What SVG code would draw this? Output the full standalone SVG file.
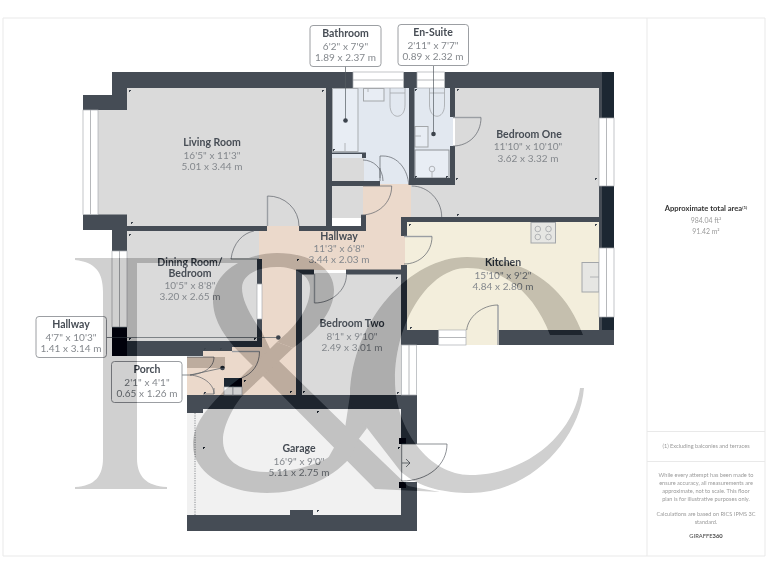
<svg xmlns="http://www.w3.org/2000/svg" xmlns:xlink="http://www.w3.org/1999/xlink" width="768" height="576" viewBox="0 0 768 576">
<style>
text{font-family:"Lato","Noto Sans",sans-serif;text-anchor:middle}
.t{font-size:10.5px;font-weight:700;fill:#474d55}
.s{font-size:10px;fill:#84888d;letter-spacing:.05px}
.floor{stroke:none}
.wall{fill:#454c55}
.dark{fill:#1c2732}
.win{fill:#fff;stroke:#a9adb1;stroke-width:.7}
.door{fill:none;stroke:#5d6268;stroke-width:.7}
.leaf{fill:none;stroke:#9a9ea3;stroke-width:1.4}
.fix{fill:none;stroke:#a3a6a9;stroke-width:.8}
.fix2{fill:#e6e6e3;stroke:#a3a6a9;stroke-width:1}
.box{fill:#fff;stroke:#83878c;stroke-width:.8}
.lead{fill:none;stroke:#555b62;stroke-width:.7}
.dot{fill:#3c434c}
.frame{fill:none;stroke:#e9e9e9;stroke-width:1}
.pt{font-size:5.6px;fill:#9a9a9a}
.pa{font-size:6.9px;fill:#9a9a9a}
.tick{fill:#3c434c}
</style>
<defs>
<g id="wm">
<path d="M75,258L258,258L258,263L137,263L137,458C137,476 146,486 167,487L167,489L75,489L75,487C95,486 103,476 103,458L103,292C103,272 95,262 75,260Z"/>
<path d="M187,357L225,357L225,368L187,368Z"/>
<path d="M242,355C222,335 213,318 213,300C213,272 245,253 277,253C310,253 334,268 334,290C334,312 316,332 293,348L277,342C297,325 310,308 310,288C310,275 295,267 277,267C257,267 242,275 242,288C242,300 250,315 262,332L273,355L357,437L408,486L440,492L375,489Z"/>
<path d="M277,342L240,378L227,388C205,410 193,425 193,445C193,475 230,493 267,493C300,493 330,480 350,458L345,442C335,460 300,472 267,472C240,472 223,460 223,440C223,425 235,403 245,393L293,348Z"/>
<path d="M327,460L345,428L350,395L367,428L358,440L350,458Z"/>
<path d="M583,335C565,285 525,257 467,257C410,257 352,320 350,395C350,410 358,418 367,428L401,472C420,488 445,493 470,493C530,493 580,440 584,388L580,388C575,430 530,475 470,475C430,475 395,430 395,380C395,320 430,268 467,268C505,268 535,295 550,335Z"/>
</g>
<path id="tk" d="M0,0h2v1h-1v1h-1z"/>
</defs>
<rect width="768" height="576" fill="#fff"/>
<g id="frame">
<path class="frame" d="M3,18H765V556H3ZM647,18V556M647,431.5H765M647,461.5H765"/>
</g>

<g id="living-room"><rect class="floor" x="98" y="110" width="30" height="105" fill="#dadada"/><rect class="floor" x="127" y="88" width="200" height="139" fill="#dadada"/>
<text class="t" x="212" y="146">Living Room</text><text class="s" x="212" y="159">16'5" x 11'3"</text><text class="s" x="212" y="170">5.01 x 3.44 m</text></g>
<g id="dining-room"><rect class="floor" x="127" y="231" width="133" height="110" fill="#dadada"/>
<text class="t" x="190" y="265.500">Dining Room/</text><text class="t" x="190" y="277">Bedroom</text><text class="s" x="190" y="289">10'5" x 8'8"</text><text class="s" x="190" y="300">3.20 x 2.65 m</text></g>
<g id="bathroom"><path class="floor" d="M332,88H409V185H364V158H332Z" fill="#e2e8f0"/><rect class="floor" x="332" y="158" width="32" height="24" fill="#dadada"/></g>
<g id="closet"><rect class="floor" x="332" y="186" width="31" height="32" fill="#dadada"/></g>
<g id="en-suite"><rect class="floor" x="414" y="88" width="39" height="91" fill="#e2e8f0"/></g>
<g id="bedroom-one"><path class="floor" d="M455,88H600V218H411V185H455Z" fill="#dadada"/>
<text class="t" x="529" y="138">Bedroom One</text><text class="s" x="528" y="150">11'10" x 10'10"</text><text class="s" x="528" y="162">3.62 x 3.32 m</text></g>
<g id="kitchen"><rect class="floor" x="403" y="222" width="197" height="108" fill="#f3eedc"/><rect class="floor" x="466" y="330" width="33" height="15" fill="#f3eedc"/>
<text class="t" x="503" y="266">Kitchen</text><text class="s" x="503" y="279">15'10" x 9'2"</text><text class="s" x="503" y="290">4.84 x 2.80 m</text></g>
<g id="bedroom-two"><rect class="floor" x="301" y="273" width="101" height="123" fill="#dadada"/>
<text class="t" x="352" y="327">Bedroom Two</text><text class="s" x="352" y="340">8'1" x 9'10"</text><text class="s" x="352" y="351">2.49 x 3.01 m</text></g>
<g id="hallway"><path class="floor" d="M363,184H411V218H401V236H405V265H401V270H296V396H187V357H203V347H262V259H259V231H267V226H299V231H363Z" fill="#ebd9cb"/></g>
<g id="garage"><rect class="floor" x="187" y="408" width="215" height="108" fill="#f1f1f1"/>
<text class="t" x="299" y="452">Garage</text><text class="s" x="299" y="465">16'9" x 9'0"</text><text class="s" x="299" y="476">5.11 x 2.75 m</text></g>

<g id="fixtures">
<rect x="332.500" y="88.500" width="25.500" height="63" fill="#e8edf4" stroke="#a9adb1" stroke-width="1"/>
<path class="fix" d="M345,143V151"/>
<rect x="363.500" y="88.500" width="20.500" height="12.500" fill="#e8edf4" stroke="#a3a6a9"/>
<path class="fix" d="M368,88V92M390,93H405M390,88V105C390,120 405,120 405,105V88M429.500,93H444.500M429.500,88V105C429.500,120 444.500,120 444.500,105V88"/>
<rect x="415" y="126.500" width="13" height="20.500" fill="#e8edf4" stroke="#a3a6a9"/><path class="fix" d="M415,136H421"/>
<rect x="415" y="150" width="34" height="28" fill="#e8edf4" stroke="#8d9196"/><circle class="fix" cx="432" cy="169" r="2.800"/><path class="fix" d="M432,172V178"/>
<rect class="fix2" x="531" y="222.500" width="24.500" height="20.500"/>
<g class="fix"><circle cx="537.800" cy="229" r="2.800"/><circle cx="548.500" cy="229" r="2.800"/><circle cx="537.800" cy="237" r="2.800"/><circle cx="548.500" cy="237" r="2.800"/></g>
<rect class="fix2" x="582" y="262.500" width="17" height="29.500"/><path class="fix" d="M590,277H599"/>
</g>

<g id="walls">
<path class="wall" d="M112,72H353V88H127V95H112Z"/>
<path class="wall" d="M83,95H127V110H83ZM83,214.500H127V230H83Z"/>
<path class="wall" d="M112,230H127V251H112Z"/>
<path class="wall" d="M112,226H267V231H112ZM299,226H366V231H299Z"/>
<rect class="wall" x="326" y="88" width="6" height="143"/>
<path class="wall" d="M332,152.500H366V158H362V154H332ZM332,181H380V186H332ZM361,215H366V231H361Z"/>
<path class="wall" d="M403.500,72H417V88H414.500V184H409V88H403.500Z"/>
<path class="wall" d="M444.500,72H602V88H444.500ZM450,88H455V117H450ZM450,146H455V185H409V178H450Z"/>
<path class="wall" d="M599,88H602V118H599ZM599,186H602V248H599ZM599,317H602V330H599Z"/>
<path class="dark" d="M602,72H614V118H602ZM602,186H614V248H602ZM602,317H614V330H602Z"/>
<path class="wall" d="M401,217H602V222H407V236H401ZM401,265H407V330H614V345H499V330H466V345H401Z"/>
<path class="wall" d="M346,269.500H401V274.500H346ZM296,269.500H314V274.500H302V395H296Z"/>
<path class="wall" d="M257,259H262V284H257ZM257,319H262V347H232V351H203V356H112V341H257Z"/>
<path class="dark" d="M112,327H127V356H112Z"/>
<path class="dark" d="M224,378H242V387H224Z"/>
<path class="wall" d="M187,395H417V444H401V409H203V413H187ZM401,482H417V531H187V515H290V510H313V515H401Z"/>
<path class="dark" d="M399,438H406V444H399ZM399,482H406V488H399Z"/>
<path class="fix" d="M195,413V515" stroke-dasharray="1.200 1.200" style="stroke:#6f7479"/>
</g>

<g id="windows">
<rect class="win" x="83" y="110" width="15" height="104.500"/><path class="fix" d="M90.500,110V214.500"/>
<rect class="win" x="353" y="72" width="50.500" height="16"/><path class="fix" d="M353,80H403.500"/>
<rect class="win" x="417" y="72" width="27.500" height="16"/><path class="fix" d="M417,80H444.500"/>
<rect class="win" x="599" y="118" width="15" height="68"/><path class="fix" d="M606.500,118V186"/>
<rect class="win" x="599" y="248" width="15" height="69"/><path class="fix" d="M606.500,248V317"/>
<rect class="win" x="438.700" y="330" width="27.300" height="15"/><path class="fix" d="M438.700,337.500H466"/>
<rect class="win" x="112" y="251" width="15" height="76"/><path class="fix" d="M119.500,251V327"/>
<rect class="win" x="257" y="284" width="5" height="35"/>
<rect class="win" x="401.500" y="345" width="15" height="50"/><path class="fix" d="M409,345V395"/>
<rect class="win" x="224" y="387" width="9" height="8"/><rect class="win" x="233" y="387" width="9" height="8"/>
</g>

<g id="doors">
<path class="leaf" d="M267.500,226V196"/><path class="door" d="M267.500,196A31,30 0 0 1 299,226"/>
<path class="door" d="M231,259H259M231,259C233,243 243,233 254,231"/>
<path class="door" d="M363,160C373,160 383,168 383,181M380,168V181"/>
<path class="door" d="M380,178V156H383C398,156 408,170 408.700,185"/>
<path class="door" d="M363,186H391.700C391.700,203 378,215 361,215"/>
<path class="door" d="M411.700,186C428,186 441.700,200 441.700,217"/>
<path class="leaf" d="M453,117.500H481"/><path class="door" d="M481,117.500C481,134 469,146 453,146"/>
<path class="leaf" d="M404,236.500H432"/><path class="door" d="M432,236.500C432,252 420,264 404,264"/>
<path class="leaf" d="M314.500,274V303"/><path class="door" d="M314.500,303C332,303 346.500,290 346.500,274.500"/>
<path class="leaf" d="M498,305V345"/><path class="door" d="M498,305C482,305 468,317 466.700,330"/>
<path class="door" d="M401.700,444V481M401.700,444H447C447,465 428,481 401.700,481M402,463H410M406,459L410,463L406,467"/>
<path class="door" d="M187,357H214C214,368 203,374 190,375M203,394H214C214,384 203,376 190,375M214,394V388"/>
<path class="leaf" d="M232,351.500H259.500"/><path class="door" d="M259.500,351.500C259.500,365 252,374 241.500,378"/>
</g>

<g id="ticks" class="tick">
<use xlink:href="#tk" x="129" y="90"/><use xlink:href="#tk" x="322" y="90"/><use xlink:href="#tk" x="131" y="222"/><use xlink:href="#tk" x="129" y="234"/><use xlink:href="#tk" x="333" y="149"/><use xlink:href="#tk" x="415" y="89"/><use xlink:href="#tk" x="457" y="89"/><use xlink:href="#tk" x="415" y="176"/><use xlink:href="#tk" x="446" y="176"/><use xlink:href="#tk" x="456" y="178"/><use xlink:href="#tk" x="595" y="178"/><use xlink:href="#tk" x="457" y="214"/><use xlink:href="#tk" x="409" y="224"/><use xlink:href="#tk" x="595" y="224"/><use xlink:href="#tk" x="410" y="327"/><use xlink:href="#tk" x="396" y="277"/><use xlink:href="#tk" x="303" y="391"/><use xlink:href="#tk" x="397" y="392"/><use xlink:href="#tk" x="290" y="391"/><use xlink:href="#tk" x="297" y="259"/><use xlink:href="#tk" x="204" y="348"/><use xlink:href="#tk" x="220" y="348"/><use xlink:href="#tk" x="129" y="338"/><use xlink:href="#tk" x="254" y="338"/><use xlink:href="#tk" x="244" y="380"/><use xlink:href="#tk" x="204" y="392"/><use xlink:href="#tk" x="317" y="510"/><use xlink:href="#tk" x="203" y="447"/><use xlink:href="#tk" x="398" y="447"/><use xlink:href="#tk" x="317" y="411"/>
</g>

<g id="connectors">
<path class="lead" d="M345.500,66V120M433.500,66V134M106,337.500H278M182,375H190L222,368"/>
<circle class="dot" cx="345.500" cy="120.500" r="2.300"/><circle class="dot" cx="433.500" cy="134" r="2.300"/><circle class="dot" cx="278.300" cy="337.500" r="2.300"/><circle class="dot" cx="222.500" cy="368" r="2.300"/>
</g>

<g id="label-bathroom"><rect class="box" x="310" y="25.500" width="71" height="41" rx="3"/><text class="t" x="345.500" y="37">Bathroom</text><text class="s" x="345.500" y="49.500">6'2" x 7'9"</text><text class="s" x="345.500" y="60.500">1.89 x 2.37 m</text></g>
<g id="label-en-suite"><rect class="box" x="398" y="24.500" width="70.500" height="41" rx="3"/><text class="t" x="433" y="36">En-Suite</text><text class="s" x="433" y="49">2'11" x 7'7"</text><text class="s" x="433" y="60">0.89 x 2.32 m</text></g>
<g id="label-hallway-main"><text class="t" x="339" y="240">Hallway</text><text class="s" x="339" y="252">11'3" x 6'8"</text><text class="s" x="339" y="263">3.44 x 2.03 m</text></g>
<g id="label-hallway"><rect class="box" x="36" y="316.500" width="70.500" height="41" rx="3"/><text class="t" x="71" y="328">Hallway</text><text class="s" x="71" y="341">4'7" x 10'3"</text><text class="s" x="71" y="352">1.41 x 3.14 m</text></g>
<g id="label-porch"><rect class="box" x="111.500" y="361.500" width="70.500" height="41" rx="3"/><text class="t" x="147" y="373">Porch</text><text class="s" x="147" y="386">2'1" x 4'1"</text><text class="s" x="147" y="397">0.65 x 1.26 m</text></g>

<g id="panel">
<text x="706" y="211" font-size="7.600" font-weight="700" fill="#333">Approximate total area<tspan font-size="4.500" dy="-2.500">(1)</tspan></text>
<text class="pa" x="706" y="223">984.04 ft²</text>
<text class="pa" x="706" y="233.500">91.42 m²</text>
<text class="pt" x="706" y="448">(1) Excluding balconies and terraces</text>
<text class="pt" x="706" y="477">While every attempt has been made to</text>
<text class="pt" x="706" y="485">ensure accuracy, all measurements are</text>
<text class="pt" x="706" y="493">approximate, not to scale. This floor</text>
<text class="pt" x="706" y="501">plan is for illustrative purposes only.</text>
<text class="pt" x="706" y="516">Calculations are based on RICS IPMS 3C</text>
<text class="pt" x="706" y="524">standard.</text>
<text x="706" y="538" font-size="5.800" fill="#444">GIRAFFE<tspan font-weight="700">360</tspan></text>
</g>

<g id="watermark">
<use xlink:href="#wm" fill="#d6d6d6" style="mix-blend-mode:multiply"/>
<use xlink:href="#wm" fill="#dfdfdf" style="mix-blend-mode:color-burn"/>
</g>
</svg>
